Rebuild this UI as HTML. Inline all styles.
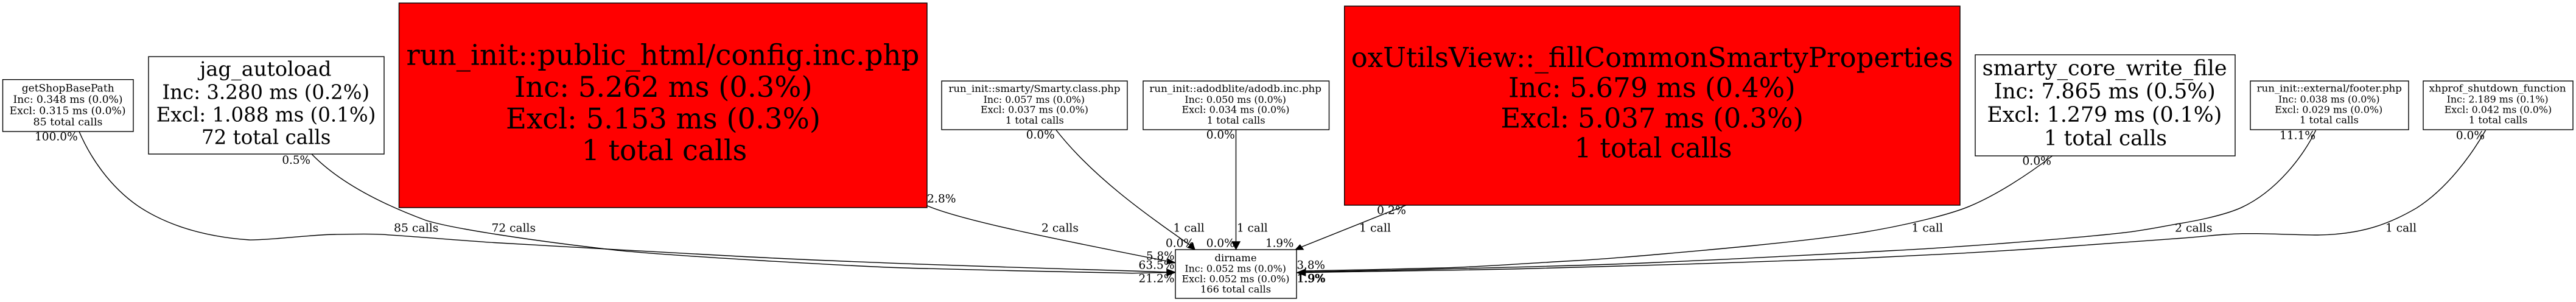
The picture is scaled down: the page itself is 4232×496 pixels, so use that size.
<!DOCTYPE html>
<html><head><meta charset="utf-8"><style>
html,body{margin:0;padding:0;background:#fff;width:4232px;height:496px;overflow:hidden}
svg{display:block}
text{font-family:"DejaVu Serif","Liberation Serif",serif;fill:#000}
</style></head><body>
<svg xmlns="http://www.w3.org/2000/svg" width="4232" height="496" viewBox="0 0 4232 496">
<rect width="4232" height="496" fill="#fff"/>
<g fill="none" stroke="#000" stroke-width="1.4">
<path d="M130,216C148,258 180,306 226.7,338.3C262,362 320,388 410,394C445,394.5 510,385.5 550,385C575,384.7 595,383.9 620,384.7C645,385.5 752,394.5 812,398.5C872,402.5 1114,415.5 1214,421C1314,426.5 1400,429.7 1500,433.5C1600,437.3 1840,444.4 1860,445L1917,447"/>
<path d="M512.3,253.3C545,287 600,325 700,362C745,376 880,396 1013,411C1100,420 1400,437.5 1500,440.5C1600,443.5 1840,448.5 1860,448.7L1917,447.5"/>
<path d="M1523.5,338C1580,362 1730,392 1918,429"/>
<path d="M1735,213.5C1795,290 1880,350 1955,402.5"/>
<path d="M2030.5,213V397"/>
<path d="M2310,337L2137,406"/>
<path d="M3371.7,256C3330,288 3280,320 3236.7,338.3C3200,354 3120,372 3060,381.7C3010,390 2944,397 2884,403C2824,409 2650,425 2590,428C2530,431 2430,438.5 2370,440C2310,441.5 2200,444 2145,445"/>
<path d="M3804.5,214C3785,255 3740,315 3680.5,341.7C3650,355 3600,364 3580,367.3C3557,371 3530,377 3493,381.7C3456.3,386.2 3410,390.1 3360,394.3C3310,398.5 3243,403.4 3193,406.7C3143,410 3110,411.4 3060,414.3C3010,417.2 2820,427 2700,432C2580,437 2400,441 2300,443.5C2250,444.8 2200,445.5 2145,446.5"/>
<path d="M4083.4,214C4060,255 4020,310 3970,341.7C3925,368 3880,385 3808,386C3784,386.1 3733,383.9 3708,383.7C3683,383.5 3677,383.7 3656,385C3635,386.3 3624,388.2 3580,391.5C3536,394.8 3443,401.2 3393,405C3343,408.8 3276.7,412.7 3226.7,415.7C3176.7,418.7 3120,421.3 3060,424C3000,426.7 2620,439 2500,441.5C2380,444 2250,446.5 2145,447.5"/>
</g>
<g fill="#000" stroke="#000" stroke-width="0.8">
<polygon points="1931.7,447.3 1916.7,441.7 1916.7,453.3"/>
<polygon points="1931.7,431.7 1918.3,425 1916.7,433.3"/>
<polygon points="1963.3,410 1950.7,406.7 1959.3,398.3"/>
<polygon points="2030.5,410 2023.5,396.7 2037.5,396.7"/>
<polygon points="2127.7,410.3 2135.7,401.7 2141.7,410"/>
<polygon points="2130,447.7 2145,441.7 2145,453.3"/>
</g>
<g stroke="#000" stroke-width="1.4">
<rect x="4.5" y="130.7" width="214.5" height="85.3" fill="#fff"/>
<rect x="244" y="93" width="387" height="160" fill="#fff"/>
<rect x="655.5" y="5" width="867.5" height="336" fill="#f00"/>
<rect x="1547" y="133" width="305" height="80" fill="#fff"/>
<rect x="1878" y="133" width="305.5" height="80" fill="#fff"/>
<rect x="1931" y="410" width="199" height="80" fill="#fff"/>
<rect x="2208.7" y="10" width="1011.3" height="327" fill="#f00"/>
<rect x="3245" y="90" width="427" height="166" fill="#fff"/>
<rect x="3697" y="133" width="260" height="80" fill="#fff"/>
<rect x="3981" y="133" width="246" height="80" fill="#fff"/>
</g>
<g font-size="17.2">
<text x="35.7" y="150.7" textLength="152" lengthAdjust="spacingAndGlyphs">getShopBasePath</text>
<text x="21.5" y="169" textLength="180" lengthAdjust="spacingAndGlyphs">Inc: 0.348 ms (0.0%)</text>
<text x="15.6" y="187.7" textLength="191" lengthAdjust="spacingAndGlyphs">Excl: 0.315 ms (0.0%)</text>
<text x="54.5" y="206" textLength="114" lengthAdjust="spacingAndGlyphs">85 total calls</text>
</g>
<g font-size="32.5">
<text x="328" y="124.3" textLength="216.5" lengthAdjust="spacingAndGlyphs">jag_autoload</text>
<text x="266.5" y="162.7" textLength="340.6" lengthAdjust="spacingAndGlyphs">Inc: 3.280 ms (0.2%)</text>
<text x="256.7" y="199.3" textLength="360.7" lengthAdjust="spacingAndGlyphs">Excl: 1.088 ms (0.1%)</text>
<text x="331" y="236.5" textLength="212.5" lengthAdjust="spacingAndGlyphs">72 total calls</text>
</g>
<g font-size="46.6">
<text x="667.5" y="106.7" textLength="843" lengthAdjust="spacingAndGlyphs">run_init::public_html/config.inc.php</text>
<text x="845" y="159" textLength="489.6" lengthAdjust="spacingAndGlyphs">Inc: 5.262 ms (0.3%)</text>
<text x="831" y="211" textLength="517" lengthAdjust="spacingAndGlyphs">Excl: 5.153 ms (0.3%)</text>
<text x="955.7" y="263" textLength="271.5" lengthAdjust="spacingAndGlyphs">1 total calls</text>
</g>
<g font-size="16">
<text x="1558.5" y="151" textLength="282" lengthAdjust="spacingAndGlyphs">run_init::smarty/Smarty.class.php</text>
<text x="1615.6" y="169" textLength="166.5" lengthAdjust="spacingAndGlyphs">Inc: 0.057 ms (0.0%)</text>
<text x="1611" y="185.7" textLength="177" lengthAdjust="spacingAndGlyphs">Excl: 0.037 ms (0.0%)</text>
<text x="1651.8" y="203" textLength="96" lengthAdjust="spacingAndGlyphs">1 total calls</text>
<text x="1888.4" y="151" textLength="282.6" lengthAdjust="spacingAndGlyphs">run_init::adodblite/adodb.inc.php</text>
<text x="1946.4" y="169" textLength="166.5" lengthAdjust="spacingAndGlyphs">Inc: 0.050 ms (0.0%)</text>
<text x="1941.5" y="185.7" textLength="177" lengthAdjust="spacingAndGlyphs">Excl: 0.034 ms (0.0%)</text>
<text x="1982.6" y="203" textLength="96" lengthAdjust="spacingAndGlyphs">1 total calls</text>
<text x="1995.5" y="429" textLength="69" lengthAdjust="spacingAndGlyphs">dirname</text>
<text x="1946.4" y="446.3" textLength="166.5" lengthAdjust="spacingAndGlyphs">Inc: 0.052 ms (0.0%)</text>
<text x="1941.5" y="463.3" textLength="177" lengthAdjust="spacingAndGlyphs">Excl: 0.052 ms (0.0%)</text>
<text x="1972" y="480.3" textLength="116" lengthAdjust="spacingAndGlyphs">166 total calls</text>
<text x="3707.6" y="150.7" textLength="238.3" lengthAdjust="spacingAndGlyphs">run_init::external/footer.php</text>
<text x="3743" y="168.3" textLength="166.5" lengthAdjust="spacingAndGlyphs">Inc: 0.038 ms (0.0%)</text>
<text x="3737.2" y="185.7" textLength="177" lengthAdjust="spacingAndGlyphs">Excl: 0.029 ms (0.0%)</text>
<text x="3778" y="202.7" textLength="97" lengthAdjust="spacingAndGlyphs">1 total calls</text>
<text x="3990.6" y="150.7" textLength="225" lengthAdjust="spacingAndGlyphs">xhprof_shutdown_function</text>
<text x="4019.6" y="168.3" textLength="167" lengthAdjust="spacingAndGlyphs">Inc: 2.189 ms (0.1%)</text>
<text x="4015.7" y="185.7" textLength="176.5" lengthAdjust="spacingAndGlyphs">Excl: 0.042 ms (0.0%)</text>
<text x="4055.8" y="202.7" textLength="96.5" lengthAdjust="spacingAndGlyphs">1 total calls</text>
</g>
<g font-size="44.8">
<text x="2219.7" y="110" textLength="989" lengthAdjust="spacingAndGlyphs">oxUtilsView::_fillCommonSmartyProperties</text>
<text x="2478" y="159.3" textLength="471.7" lengthAdjust="spacingAndGlyphs">Inc: 5.679 ms (0.4%)</text>
<text x="2465.5" y="209.3" textLength="497.5" lengthAdjust="spacingAndGlyphs">Excl: 5.037 ms (0.3%)</text>
<text x="2586.5" y="258.3" textLength="259" lengthAdjust="spacingAndGlyphs">1 total calls</text>
</g>
<g font-size="34.8">
<text x="3256.6" y="123.3" textLength="402" lengthAdjust="spacingAndGlyphs">smarty_core_write_file</text>
<text x="3275.7" y="161.7" textLength="364" lengthAdjust="spacingAndGlyphs">Inc: 7.865 ms (0.5%)</text>
<text x="3264.5" y="200" textLength="385.8" lengthAdjust="spacingAndGlyphs">Excl: 1.279 ms (0.1%)</text>
<text x="3358" y="238.7" textLength="202" lengthAdjust="spacingAndGlyphs">1 total calls</text>
</g>
<g font-size="18.5">
<text x="57" y="230.7" textLength="70.7" lengthAdjust="spacingAndGlyphs">100.0%</text>
<text x="463.4" y="269" textLength="46.6" lengthAdjust="spacingAndGlyphs">0.5%</text>
<text x="647" y="380.7" textLength="73.4" lengthAdjust="spacingAndGlyphs">85 calls</text>
<text x="807.6" y="380.7" textLength="72.4" lengthAdjust="spacingAndGlyphs">72 calls</text>
<text x="1523" y="332.7" textLength="47.5" lengthAdjust="spacingAndGlyphs">2.8%</text>
<text x="1711" y="380.7" textLength="61" lengthAdjust="spacingAndGlyphs">2 calls</text>
<text x="1685.7" y="227.7" textLength="47" lengthAdjust="spacingAndGlyphs">0.0%</text>
<text x="1981.7" y="227.7" textLength="47" lengthAdjust="spacingAndGlyphs">0.0%</text>
<text x="1927.7" y="380.7" textLength="51" lengthAdjust="spacingAndGlyphs">1 call</text>
<text x="2032" y="380.7" textLength="50.6" lengthAdjust="spacingAndGlyphs">1 call</text>
<text x="1915" y="405.3" textLength="47" lengthAdjust="spacingAndGlyphs">0.0%</text>
<text x="1981.7" y="405.3" textLength="47" lengthAdjust="spacingAndGlyphs">0.0%</text>
<text x="2079" y="405.3" textLength="46.4" lengthAdjust="spacingAndGlyphs">1.9%</text>
<text x="1883" y="426.7" textLength="46.5" lengthAdjust="spacingAndGlyphs">5.8%</text>
<text x="1870.5" y="441.7" textLength="59" lengthAdjust="spacingAndGlyphs">63.5%</text>
<text x="1870.5" y="463.3" textLength="59" lengthAdjust="spacingAndGlyphs">21.2%</text>
<text x="2130.4" y="441.7" textLength="46.6" lengthAdjust="spacingAndGlyphs">3.8%</text>
<text x="2130.4" y="463.3" textLength="46.6" lengthAdjust="spacingAndGlyphs">1.9%</text>
<text x="2131.4" y="463.3" textLength="46.6" lengthAdjust="spacingAndGlyphs">1.9%</text>
<text x="2262" y="351.7" textLength="48" lengthAdjust="spacingAndGlyphs">0.2%</text>
<text x="2233" y="380.7" textLength="52" lengthAdjust="spacingAndGlyphs">1 call</text>
<text x="3140.5" y="380.7" textLength="51.5" lengthAdjust="spacingAndGlyphs">1 call</text>
<text x="3322.4" y="270.7" textLength="47.6" lengthAdjust="spacingAndGlyphs">0.0%</text>
<text x="3745" y="228.3" textLength="59" lengthAdjust="spacingAndGlyphs">11.1%</text>
<text x="4034.8" y="228.3" textLength="47.2" lengthAdjust="spacingAndGlyphs">0.0%</text>
<text x="3573" y="380.7" textLength="61.5" lengthAdjust="spacingAndGlyphs">2 calls</text>
<text x="3919" y="380.7" textLength="51" lengthAdjust="spacingAndGlyphs">1 call</text>
</g>
</svg>
</body></html>
